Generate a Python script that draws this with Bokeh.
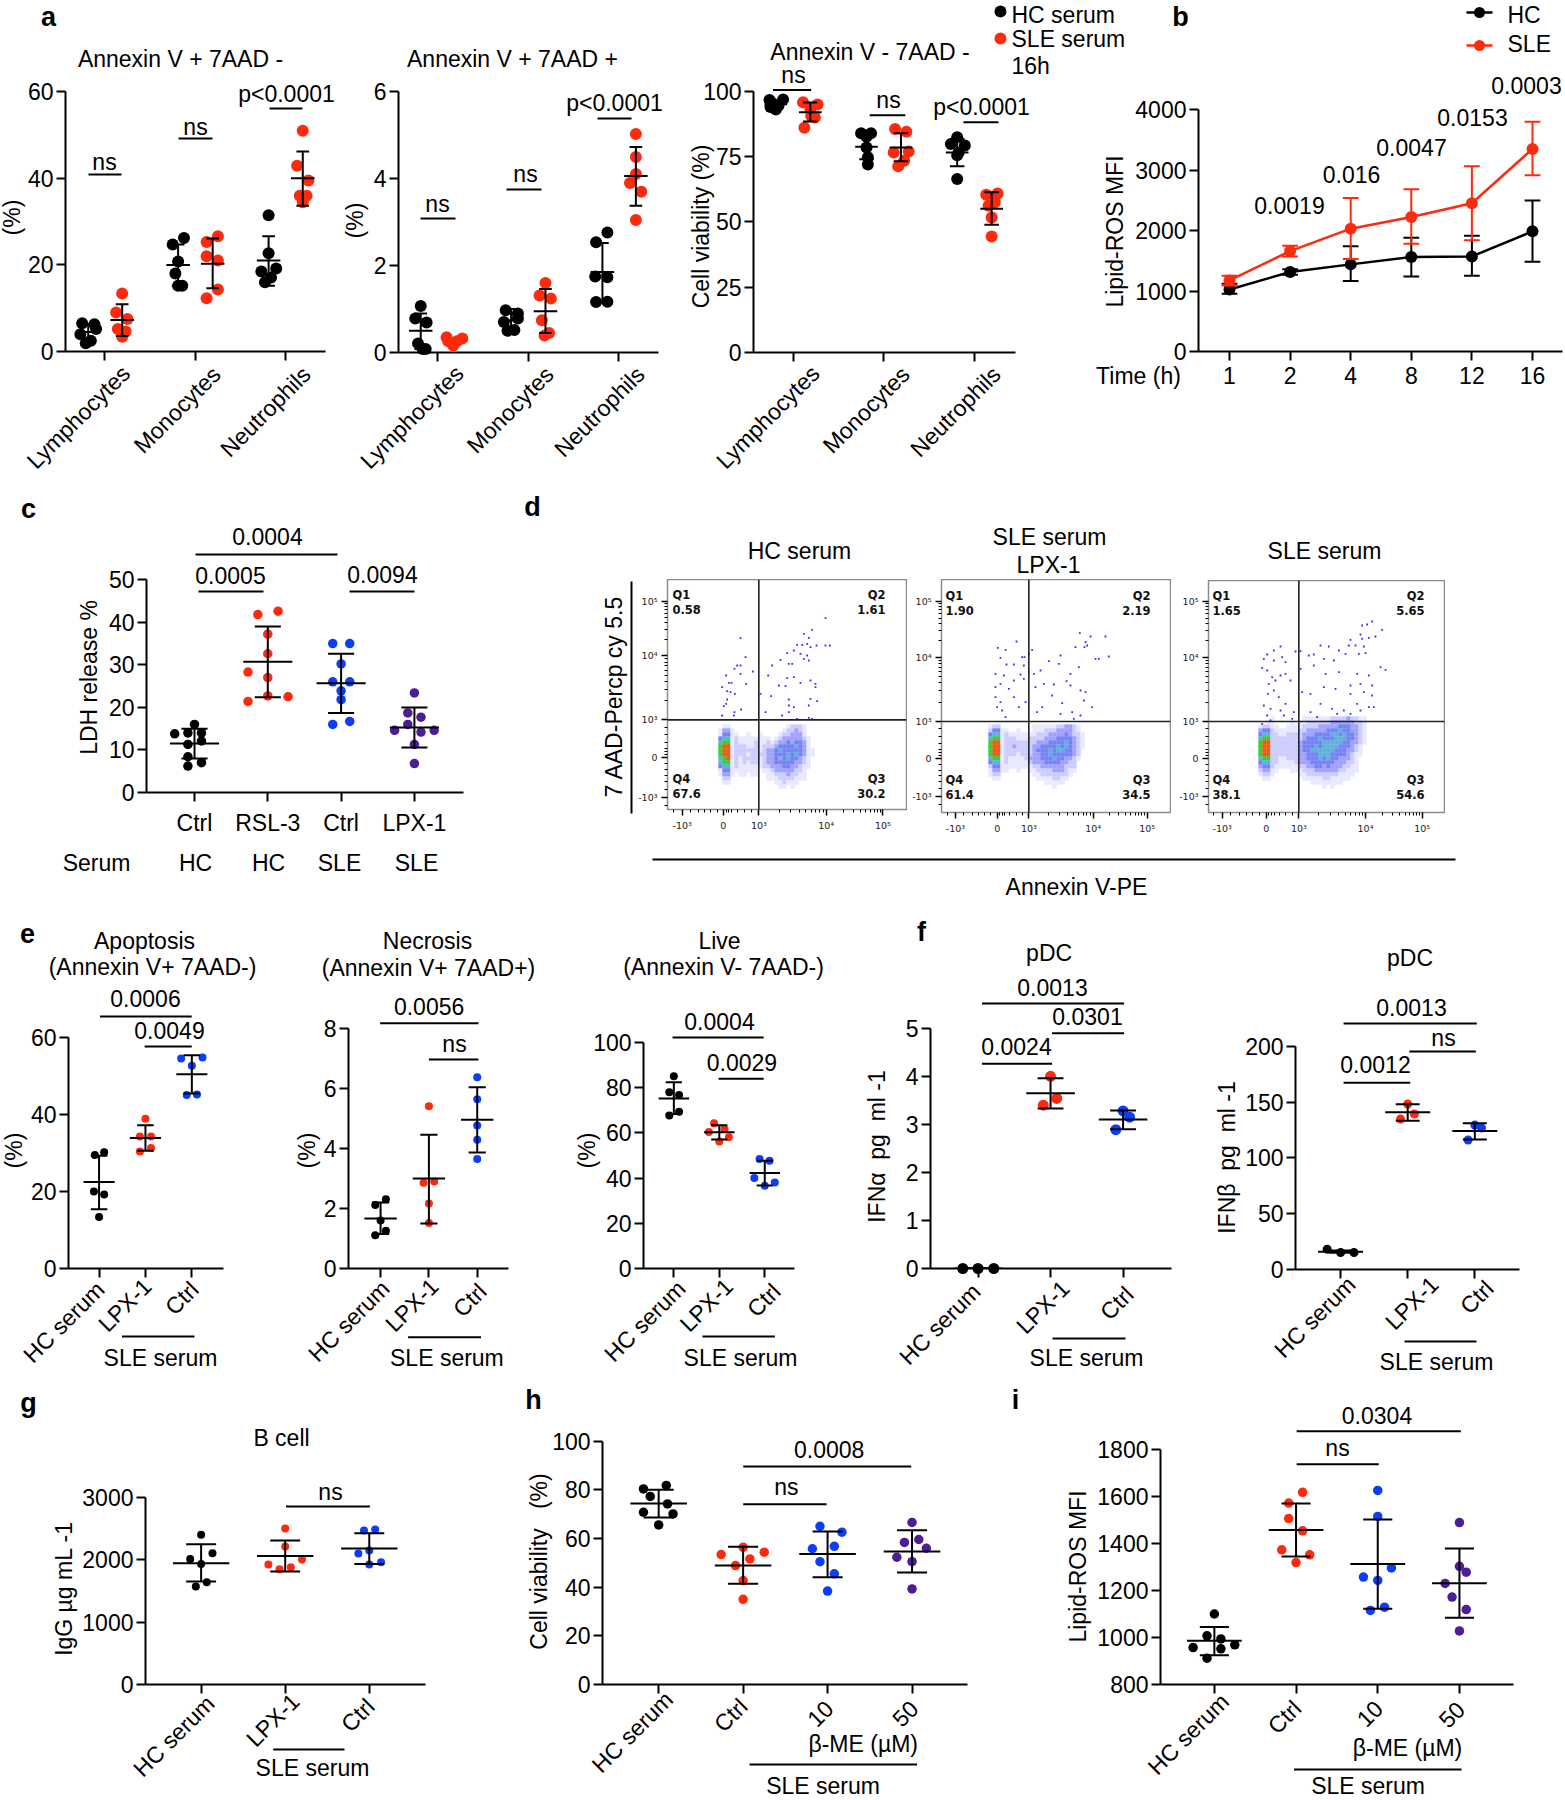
import math
from bokeh.plotting import figure
from bokeh.models import Label, Range1d, FixedTicker, Span
from bokeh.embed import file_html
from bokeh.resources import INLINE

FONT = "Liberation Sans"
BLACK, RED, BLUE, PURPLE = "#000000", "#fe2a0e", "#0b3dfb", "#4c1d95"

# ---------- panel a ----------
a_labels = ["Lymphocytes", "Monocytes", "Neutrophils"]
a1_x = [[-.25,-.115,-.096,-.27,-.154,-.21],[.192,.125,.25,.144,.23,.192],
        [.875,.75,.81,.78,.81,.856],[1.25,1.125,1.125,1.25,1.25,1.125],
        [1.81,1.81,1.73,1.894,1.837,1.77],[2.1875,2.125,2.25,2.154,2.23,2.1875]]
a1_y = [[6.5,6.3,5.2,4.0,2.5,1.9],[13.4,9.0,7.5,5.2,4.6,3.4],[26.2,24.7,20.8,18.0,15.2,15.2],
        [26.6,25.3,22,21,14.3,12.3],[31.5,22.7,18.5,19.2,17.1,16],[51,42.9,39.5,36,36,34.5]]
a1_c = [-.183,.192,.81,1.192,1.81,2.1875]
a1_m = [4.5,7.25,20,20.3,21,40]
a1_hi = [6.3,10.9,24.7,26.1,26.6,46.2]
a1_lo = [2.7,3.6,15.2,14.6,15.2,33.7]

a2_x = [[-.19,-.25,-.125,-.22,-.17,-.135],[.096,.27,.163,.21,.115,.17],
        [.75,.885,.885,.73,.77,.846],[1.19,1.125,1.25,1.15,1.23,1.18],
        [1.875,1.75,1.74,1.875,1.75,1.875],[2.19,2.19,2.19,2.125,2.25,2.19]]
a2_y = [[1.07,.78,.69,.21,.08,.08],[.35,.32,.2,.26,.26,.16],[.97,.9,.78,.7,.5,.52],
        [1.6,1.31,1.24,.74,.45,.39],[2.76,2.54,1.75,1.73,1.16,1.17],[5.03,4.5,4.11,3.9,3.7,3.05]]
a2_c = [-.19,.18,.81,1.19,1.82,2.19]
a2_m = [.5,.27,.74,.95,1.85,4.06]
a2_hi = [.9,.33,1.0,1.46,2.52,4.73]
a2_lo = [.08,.2,.49,.45,1.16,3.38]

a3_x = [[-.26,-.11,-.22,-.16,-.19,-.25],[.11,.27,.19,.24,.2,.125],
        [.75,.86,.81,.81,.825,.825],[1.125,1.25,1.11,1.275,1.225,1.16],
        [1.81,1.74,1.894,1.825,1.81,1.81],[2.13,2.256,2.225,2.156,2.19,2.19]]
a3_y = [[96.7,96.9,95.2,94.6,93,94],[95.8,94.9,93.2,90,90.5,86],[83.9,83.9,82.6,78.5,74.7,72],
        [85.6,84.5,76.6,76.9,73.4,71.3],[82.4,79.8,79.2,76.5,75.5,66.4],[60.4,60.9,57.5,56.2,51.7,44.4]]
a3_c = [-.19,.19,.81,1.19,1.81,2.19]
a3_m = [95,92,78.8,78.5,76.6,55]
a3_hi = [96.5,95.7,85,83.9,81.7,61.3]
a3_lo = [93.5,88.4,74,73.2,71.3,48.9]
ab_col = [BLACK,RED,BLACK,RED,BLACK,RED]

# ---------- panel b ----------
b_times = ["1","2","4","8","12","16"]
b_hc = [1026,1313,1440,1561,1572,1986]
b_hc_hi = [1120,1360,1738,1881,1914,2494]
b_hc_lo = [955,1270,1164,1241,1252,1484]
b_sle = [1175,1660,2030,2223,2450,3349]
b_sle_hi = [1252,1749,2538,2681,3062,3796]
b_sle_lo = [1092,1572,1528,1782,1837,2913]

# ---------- panel c ----------
c_labels = ["Ctrl","RSL-3","Ctrl","LPX-1"]
c_x = [[0,-.27,-.09,.095,.095,-.09,-.09,.095,-.09],[1.14,.864,1,1,.73,1,1,1.277,.73],
       [1.886,2.118,2,1.886,2.118,2,2,2.118,1.886],[3,2.91,3.09,2.91,2.73,3.09,3.27,3,3]]
c_y = [[16,13.8,14,14,12.1,11.3,8.4,7,6.2],[42.6,41.8,37.2,32.6,28.3,27,22.7,22.5,21.4],
       [35,35,30.2,26,26,23.9,21.8,16.7,16],[23.4,18.7,17.7,16,14.6,14.2,14.6,11.3,6.8]]
c_m = [11.5,30.7,25.7,15.3]
c_hi = [15,39,32.6,20]
c_lo = [8,22.4,18.7,10.6]

# ---------- panel e ----------
efg_labels = ["HC serum","LPX-1","Ctrl"]
e1_x = [[.11,-.09,-.11,.11,0],[1,.88,1.12,1.12,.88],[1.77,2.23,2,1.89,2.11]]
e1_y = [[30.2,29.5,20,19.2,13.4],[38.9,34.3,34.3,31.3,30.4],[54.6,54.8,52.7,45.1,45.2]]
e1_m, e1_hi, e1_lo = [22.5,33.9,50.5],[29.3,37.2,55.4],[15.4,30.6,45.5]
e2_x = [[.11,-.11,0,.11,-.11],[1,.89,1.11,1,1],[2,2,2,2,2]]
e2_y = [[2.31,2.12,1.6,1.26,1.11],[5.41,2.86,2.9,2.17,1.52],[6.38,5.64,4.77,4.29,3.65]]
e2_m, e2_hi, e2_lo = [1.67,3.0,4.96],[2.2,4.46,6.04],[1.15,1.5,3.87]
e3_x = [[0,-.1,.115,.115,-.1],[.885,1.115,.77,1.21,1],[1.885,2.105,1.77,2.22,2]]
e3_y = [[85,77.9,76.7,69.3,67.6],[64.2,61.7,60.3,58,56.2],[48.4,47.6,40,38,36.6]]
e3_m, e3_hi, e3_lo = [75.2,60.2,42.2],[82.3,63.3,47.6],[68.3,57,36.7]

# ---------- panel f ----------
f1_x = [[-.21,0,.217],[1,1.085,.9],[2,2.09,1.9]]
f1_y = [[0,0,0],[4.0,3.54,3.4],[3.28,3.15,2.89]]
f1_m, f1_hi, f1_lo = [0,3.65,3.1],[0,3.96,3.29],[0,3.33,2.9]
f2_x = [[-.2,0,.2],[1,1.1,.893],[2,2.1,1.9]]
f2_y = [[18.2,15.2,15.2],[148.3,139.3,134.8],[129.4,126.8,116]]
f2_m, f2_hi, f2_lo = [16,140.8,124.2],[17,148,131],[15,133.3,116.6]

# ---------- panel g ----------
g_x = [[0,.135,-.13,0,.067,-.063],[1,1,1.2,.8,1.067,.933],[1.937,2.07,2,1.87,2.14,2]]
g_y = [[2397,2103,2012,1932,1639,1569],[2498,2210,2002,1922,1879,1847],[2466,2482,2146,2098,1959,1922]]
g_m, g_hi, g_lo = [1943,2060,2178],[2247,2306,2424],[1650,1810,1932]

# ---------- panels h, i ----------
hi_labels = ["HC serum","Ctrl","10","50"]
h_x = [[.09,-.18,-.1,.105,-.18,.17,0],[1,.74,1.25,1.08,.91,1,1],
       [1.91,2.17,1.82,2.08,1.91,2.08,2],[3,3.08,2.91,3.17,2.82,3,3]]
h_y = [[81.8,80.4,77.3,74.2,70.8,70.1,65.6],[56.4,53.4,54.4,51.6,48.9,42.7,35],
       [65,62.6,55.8,56.8,50.5,45.5,38.4],[66.6,59.6,58.4,56,52.3,50.5,39.3]]
h_m, h_hi, h_lo = [74.4,48.9,53.6,54.7],[80,56.6,62.9,63.4],[68.6,41.4,44.1,46]
i_x = [[0,-.09,.08,.25,-.26,.08,-.09],[1.08,.91,.91,1.08,.825,1.167,1],
       [2,2,2.167,1.825,2,2.083,1.91],[3,3,3.083,2.825,2.91,3.083,3]]
i_y = [[1100,1007,994,969,957,952,912],[1618,1572,1506,1454,1373,1352,1319],
       [1626,1515,1296,1257,1243,1129,1115],[1489,1303,1278,1230,1172,1119,1028]]
i_m, i_hi, i_lo = [986,1457,1313,1231],[1045,1570,1502,1379],[925,1345,1122,1084]

# ---------- panel d: flow cytometry, values in digitised channel units ----------
d_tick_labels = ["-10³","0","10³","10⁴","10⁵"]
d1_xticks, d1_yticks = [305,428,535,737,907],[860,740,628,436,272]
d2_xticks, d2_yticks = [-75,50,145,338,500],[858,745,633,440,272]
d3_xticks, d3_yticks = [725,857,955,1155,1325],[858,745,633,440,272]
d1_pts = [(735,323),(695,358),(670,370),(685,382),(650,403),(665,403),(680,400),(690,410),(708,405),(735,405),(748,405),
 (620,428),(640,420),(660,430),(680,435),(670,445),(685,450),(600,448),(625,460),(635,460),(575,465),(480,383),(495,440),
 (470,465),(480,465),(462,475),(480,490),(437,495),(517,483),(563,495),(620,503),(640,500),(445,517),(453,517),(497,520),
 (425,530),(440,542),(450,545),(463,550),(540,550),(595,525),(615,527),(660,517),(690,510),(705,520),(705,530),(572,557),
 (625,567),(690,565),(710,572),(440,567),(437,580),(430,587),(425,615),(625,585),(640,590),(685,585),(462,605),(482,597),
 (555,605),(605,615),(625,605),(650,625),(695,625),(685,622),(460,615)]
d2_pts = [(298,368),(330,378),(375,378),(385,438),(345,445),(355,445),(315,395),(320,405),(312,410),(285,410),(240,435),
 (205,452),(145,430),(155,418),(108,393),(52,412),(75,418),(60,442),(125,440),(132,440),(78,462),(100,462),(130,465),
 (295,470),(235,460),(120,492),(45,490),(70,495),(60,520),(45,530),(100,510),(130,505),(270,490),(258,512),(270,525),
 (160,490),(180,480),(220,522),(190,520),(165,530),(300,540),(315,545),(85,535),(45,560),(100,560),(135,575),(60,575),
 (215,555),(245,578),(310,570),(335,590),(115,590),(50,590),(65,600),(170,605),(185,590),(240,610),(275,605),(300,615),
 (75,620),(280,625)]
d3_pts = [(1175,333),(1145,345),(1160,342),(1205,358),(1140,372),(1145,385),(1165,382),(1185,378),(1110,388),(1105,405),
 (1125,405),(1150,408),(1135,430),(1155,428),(1020,405),(1045,408),(1075,420),(1095,430),(985,435),(1000,432),(1030,445),
 (960,422),(945,423),(900,408),(880,420),(860,432),(850,445),(880,450),(905,440),(915,455),(845,472),(860,480),(960,475),
 (1000,465),(1060,450),(1200,470),(1215,478),(1035,490),(1075,485),(1130,490),(1165,495),(875,500),(900,495),(885,510),
 (915,490),(865,520),(930,510),(1030,530),(1065,535),(1110,525),(1140,520),(1175,525),(880,540),(862,550),(895,560),
 (965,545),(990,550),(1110,550),(1150,545),(1175,555),(915,580),(850,585),(870,595),(900,600),(940,605),(1020,580),
 (1055,595),(1090,600),(1130,580),(1140,600),(1165,590),(1180,590),(990,605),(1010,620),(1070,610),(1110,610),(860,615),
 (910,615),(845,640),(870,630),(935,625)]
# density read by eye, one digit per 12x12 channel cell, 0 = empty
d1_density = ["00110000000000000012221000","01331000000000000122321000","01441100100100001223331000",
 "04551211111111012333332100","05661211112112123343443100","06771222112122234444543100","06771222222123345444443110",
 "06771222122223344454543110","05671212222123343454432100","05661212122123344444332100","04551211111122333443321100",
 "01441111111011233333221000","01331011011001122232211000","00220000000001112222111000","00110000000000011211100000",
 "00000000000000001101000000"]
d2_density = ["01220000000011111122332100","02441100100011122233332100","04551211111112223333432210",
 "05661222111222233344443210","06771222222223334444543210","06771223222233444454543210","06771222222234445455443200",
 "06771222122233445444443200","05661211112333444544332100","04551211111233344443322000","02441111111122333333222000",
 "01331100100112222333211000","01220000000011222222210000","00110000000001111221100000","00000000000000011111000000",
 "00000000000000000100000000"]
d3_density = ["000001000000011111112222322110","000011000010112222223333332210","001221100111122223333344433210",
 "003442111111223333344454433210","004552211222233344445545443210","005662222222234445444555443210",
 "006772222222344444555554433210","006772222222344454555544432100","006772222222344555555444332100",
 "006772222222334445554444321100","005662211222334445454433321000","004552211112333444444333221000",
 "003442111111223344343332211000","002331100011122233333322111000","001221000000112222222211110000",
 "000110000000011111221111100000","000000000000000111111110000000","000000000000000000101000000000"]
DENS_COL = {"1":"#e8e8ff","2":"#ccccff","3":"#a0a0ff","4":"#7482f6","5":"#5cb2dc","6":"#2fd02f","7":"#ee5a10"}

figs = []
TXT = 23

def base_fig(bx, by, w, h, xr, yr, ml, mr, mt, mb):
    p = figure(width=int(round(w)), height=int(round(h)), x_range=xr, y_range=yr, output_backend="svg", toolbar_location=None,
               min_border_left=int(ml), min_border_right=int(mr), min_border_top=int(mt), min_border_bottom=int(mb),
               background_fill_color=None, border_fill_color=None, outline_line_color=None)
    p.grid.visible = False
    p.styles = {"position": "absolute", "left": f"{int(bx)}px", "top": f"{int(by)}px"}
    figs.append(p)
    return p

# overlay for text and rules that sit outside the plot frames
ov = base_fig(0, 0, 1565, 1800, Range1d(0, 1565), Range1d(1800, 0), 0, 0, 0, 0)
ov.xaxis.visible = False
ov.yaxis.visible = False
def ovtext(x, y, s, size=TXT, bold=False, vertical=False, align="center", angle=None):
    a = angle if angle is not None else (math.pi / 2 if vertical else 0)
    ov.add_layout(Label(x=x, y=y - 1, text=s, text_font=FONT, text_font_size=f"{size}px", text_align=align,
                        text_baseline="middle", text_color="black", angle=a, angle_units="rad",
                        text_font_style="bold" if bold else "normal"))
for x, y, s in ((48,17,"a"),(1180,17,"b"),(28,509,"c"),(532,507,"d"),(27,934,"e"),(921,932,"f"),(28,1403,"g"),(533,1400,"h"),(1015,1400,"i")):
    ovtext(x, y, s, size=27, bold=True)
ovtext(799, 551, "HC serum"); ovtext(1049, 537, "SLE serum"); ovtext(1048, 565, "LPX-1"); ovtext(1324, 551, "SLE serum")
ovtext(613, 697, "7 AAD-Percp cy 5.5", vertical=True); ovtext(1076, 887, "Annexin V-PE")
ov.segment([631, 652], [581, 859], [631, 1455], [813, 859], line_color="black", line_width=2)

def sle(x0, x1, ly, tx, ty):
    ov.segment([x0], [ly], [x1], [ly], line_color="black", line_width=2)
    ovtext(tx, ty, "SLE serum")

class Panel:
    def __init__(self, L, R, T, B, ytop_px, ybase, ymax, yticks, xt0, xsp, xlabels, ends=None, right=40, standoff=3, shift=(-5, -2)):
        self.L, self.R, self.T = L, R, T
        self.xt0, self.xsp, self.B, self.ytop_px, self.ybase, self.ymax = xt0, xsp, B, ytop_px, ybase, ymax
        left = min(90, int(L))
        bottom = min(120, int(1800 - B))
        right = min(right, int(1565 - R))
        xr = Range1d(self.X(L), self.X(R))
        yr = Range1d(self.Y(B), self.Y(T))
        p = base_fig(L - left, T, left + R - L + right, B - T + bottom, xr, yr, left, right, 0, bottom)
        self.p = p
        xa, ya = p.xaxis[0], p.yaxis[0]
        xa.ticker = FixedTicker(ticks=list(range(len(xlabels))))
        if ends is None:
            xa.major_label_overrides = {i: s for i, s in enumerate(xlabels)}
            xa.major_label_orientation = "horizontal"
            xa.major_label_standoff = standoff
        else:
            # the original's slanted labels were placed by hand, each one ends where it was read
            xa.major_label_overrides = {i: " " for i in range(len(xlabels))}
            for (ex, ey), s in zip(ends, xlabels):
                ovtext(ex + shift[0], ey + shift[1], s, align="right", angle=math.pi / 4)
        ya.ticker = FixedTicker(ticks=yticks)
        ya.bounds = (ybase, ymax)
        ya.major_label_standoff = 3
        for a in (xa, ya):
            a.axis_line_width = 2
            a.axis_line_color = "black"
            a.major_tick_line_width = 2
            a.major_tick_in = 0
            a.major_tick_out = 9
            a.minor_tick_line_color = None
            a.major_label_text_font = FONT
            a.major_label_text_font_size = f"{TXT}px"
            a.major_label_text_color = "black"

    def X(self, px):
        return (px - self.xt0) / self.xsp

    def Y(self, py):
        return self.ybase + (self.B - py) / (self.B - self.ytop_px) * (self.ymax - self.ybase)

    def text(self, px, py, s, size=TXT, vertical=False, align="center", bold=False):
        ovtext(px, py, s, size=size, vertical=vertical, align=align, bold=bold)

    def bracket(self, x0, x1, py):
        self.p.segment([self.X(x0)], [self.Y(py)], [self.X(x1)], [self.Y(py)], line_color="black", line_width=2)

    def low_layer(self, xs, ys, c, size):
        # marks sitting on the baseline would be cut by the frame: draw them on a twin with the same scales
        pad = 10
        L, R, T, B = self.L, self.R, self.T, self.B
        q = base_fig(L, T, R - L, B + pad - T, Range1d(self.X(L), self.X(R)), Range1d(self.Y(B + pad), self.Y(T)), 0, 0, 0, 0)
        q.xaxis.visible = False
        q.yaxis.visible = False
        q.scatter(xs, ys, size=size, fill_color=c, line_color=c, line_width=0)

    def groups(self, xs, ys, cols, size, ms=None, his=None, los=None, cen=None, mw=.335, cw=.178, low=()):
        for i, (x, y, c) in enumerate(zip(xs, ys, cols)):
            if i in low:
                self.low_layer(x, y, c, size)
            else:
                self.p.scatter(x, y, size=size, fill_color=c, line_color=c, line_width=0)
        if cen is None:
            cen = list(range(len(ms)))
        for c, m, h, l in zip(cen, ms, his, los):
            self.p.segment([c-mw, c-cw, c-cw, c], [m, h, l, l], [c+mw, c+cw, c+cw, c], [m, h, l, h],
                           line_color="black", line_width=2)

# --- a
p = Panel(65, 325, 30, 351, 91.3, 0, 60, [0,20,40,60], 104.3, 90.5, a_labels, ends=[(126.5,371),(217,372),(307,372)], shift=(-1,-1))
p.groups(a1_x, a1_y, ab_col, 12, a1_m, a1_hi, a1_lo, a1_c, .13, .07)
p.text(180, 59, "Annexin V + 7AAD -"); p.text(11, 218, "(%)", vertical=True)
p.bracket(88, 121, 174); p.text(104, 162, "ns")
p.bracket(178, 212, 138); p.text(195, 127, "ns")
p.bracket(269, 302, 108); p.text(286, 94, "p<0.0001")

p = Panel(398, 658, 30, 352, 91.3, 0, 6, [0,2,4,6], 437.4, 90.4, a_labels, ends=[(460,371),(550,372),(641,372)], shift=(-1,-1))
p.groups(a2_x, a2_y, ab_col, 12, a2_m, a2_hi, a2_lo, a2_c, .13, .07, low=(0,1))
p.text(512, 59, "Annexin V + 7AAD +"); p.text(354, 221, "(%)", vertical=True)
p.bracket(420, 455, 218); p.text(437, 204, "ns")
p.bracket(506, 541, 189); p.text(525, 174, "ns")
p.bracket(597, 631, 118); p.text(614, 103, "p<0.0001")

p = Panel(753.5, 1015, 0, 351.7, 90.7, 0, 100, [0,25,50,75,100], 793, 90.5, a_labels, ends=[(816,371),(906,372),(997,372)], shift=(-1,-1))
p.groups(a3_x, a3_y, ab_col, 12, a3_m, a3_hi, a3_lo, a3_c, .125, .08)
p.text(869.5, 52, "Annexin V - 7AAD -"); p.text(700, 227, "Cell viability (%)", vertical=True)
p.bracket(773, 811, 89.3); p.text(793, 75, "ns")
p.bracket(869.5, 905, 114.7); p.text(888, 100, "ns")
p.bracket(963, 998, 121.7); p.text(981, 107, "p<0.0001")
p.p.scatter([p.X(1000), p.X(1000)], [p.Y(11), p.Y(38)], size=12, color=[BLACK, RED], line_width=0)
p.text(1011, 15, "HC serum", align="left"); p.text(1011, 39, "SLE serum", align="left"); p.text(1011, 66, "16h", align="left")

# --- b
p = Panel(1198, 1562, 0, 351, 109, 0, 4000, [0,1000,2000,3000,4000], 1229, 60.6, b_times, standoff=6)
idx = list(range(len(b_times)))
for m, h, l, c in ((b_hc, b_hc_hi, b_hc_lo, BLACK), (b_sle, b_sle_hi, b_sle_lo, RED)):
    p.p.segment(idx, l, idx, h, line_color=c, line_width=2)
    p.p.segment([i-.13 for i in idx], h, [i+.13 for i in idx], h, line_color=c, line_width=2)
    p.p.segment([i-.13 for i in idx], l, [i+.13 for i in idx], l, line_color=c, line_width=2)
    p.p.line(idx, m, line_color=c, line_width=2.5)
    p.p.scatter(idx, m, size=12, color=c, line_width=0)
p.text(1114, 232, "Lipid-ROS MFI", vertical=True); p.text(1138, 376, "Time (h)")
for x, y, s in ((1289,206,"0.0019"),(1351,175,"0.016"),(1411,148,"0.0047"),(1472,118,"0.0153"),(1526,86,"0.0003")):
    p.text(x, y, s)
for y, c, s, ty in ((12, BLACK, "HC", 15), (45, RED, "SLE", 44)):
    p.p.segment([p.X(1466)], [p.Y(y)], [p.X(1492)], [p.Y(y)], line_color=c, line_width=2.5)
    p.p.scatter([p.X(1479)], [p.Y(y)], size=11, color=c, line_width=0)
    p.text(1507, ty, s, align="left")

# --- c
p = Panel(146, 463, 495, 792.3, 579.3, 0, 50, [0,10,20,30,40,50], 194, 73.3, c_labels, standoff=8)
p.groups(c_x, c_y, [BLACK, RED, BLUE, PURPLE], 9.5, c_m, c_hi, c_lo)
p.text(88, 678, "LDH release %", vertical=True)
p.bracket(195, 337, 554); p.text(267, 537, "0.0004")
p.bracket(198, 263, 591); p.text(230, 576, "0.0005")
p.bracket(349, 414, 591); p.text(382, 575, "0.0094")
for x, s in ((96,"Serum"),(195,"HC"),(268,"HC"),(339,"SLE"),(416,"SLE")):
    p.text(x, 863, s)

# --- d
def flow(L, R, T, Bt, ox, xticks, yticks, pts, dens, col0, row0, q):
    xr = Range1d((L - ox) * 3, (R - ox) * 3)
    yr = Range1d((Bt - 510) * 3, (T - 510) * 3)
    lf, bt = 50, 40
    p = base_fig(L - lf, T, lf + R - L + 1, Bt - T + bt, xr, yr, lf, 1, 0, bt)
    p.outline_line_color = "#8c8c8c"
    p.outline_line_width = 1.5
    cx, cy, cc = [], [], []
    for r, row in enumerate(dens):
        for c, d in enumerate(row):
            if d != "0":
                cx.append(col0 + 12 * c + 6); cy.append(row0 + 12 * r + 6); cc.append(DENS_COL[d])
    p.rect(cx, cy, 12, 12, fill_color=cc, line_color=cc, line_width=.3)
    p.scatter([a for a, b in pts], [b for a, b in pts], marker="square", size=1.8, color="#3a2cff", line_width=0)
    p.add_layout(Span(location=xticks[2], dimension="height", line_color="#222222", line_width=1.6))
    p.add_layout(Span(location=yticks[2], dimension="width", line_color="#222222", line_width=1.6))
    for a, ticks in ((p.xaxis[0], xticks), (p.yaxis[0], yticks)):
        z, t3, t4, t5 = ticks[1], ticks[2], ticks[3], ticks[4]
        minor = [z + (ticks[0] - z) * f for f in (.15,.3,.45,.6,.8,1.2)] + [z + (t3 - z) * f for f in (.08,.16,.24,.4,.6,.8)]
        for k in range(2, 10):
            minor += [t3 + (t4 - t3) * math.log10(k), t4 + (t5 - t4) * math.log10(k)]
        a.ticker = FixedTicker(ticks=ticks, minor_ticks=minor)
        a.major_label_overrides = {v: s for v, s in zip(ticks, d_tick_labels)}
        a.axis_line_color = None
        a.major_tick_in = 0; a.major_tick_out = 6; a.major_tick_line_width = 1.5
        a.minor_tick_in = 0; a.minor_tick_out = 3; a.minor_tick_line_width = 1
        a.major_label_text_font = "DejaVu Sans"; a.major_label_text_font_size = "9.5px"
        a.major_label_standoff = 4
        a.major_label_text_color = "#222222"
    for (qx, qy, s, al) in q:
        p.add_layout(Label(x=(qx - ox) * 3, y=(qy - 510) * 3, text=s, text_font="DejaVu Sans", text_font_size="11.5px",
                           text_font_style="bold", text_align=al, text_baseline="middle", text_color="#111111"))

def quads(lx, rx, a, b, c, d, top=594, low=778):
    return [(lx, top, "Q1", "left"), (lx, top + 15, a, "left"), (rx, top, "Q2", "right"), (rx, top + 15, b, "right"),
            (lx, low, "Q4", "left"), (lx, low + 15, c, "left"), (rx, low, "Q3", "right"), (rx, low + 15, d, "right")]

flow(667, 906, 579, 809, 580, d1_xticks, d1_yticks, d1_pts, d1_density, (714-580)*3, (724-510)*3,
     quads(672, 885, "0.58", "1.61", "67.6", "30.2"))
flow(941, 1170, 579, 812, 980, d2_xticks, d2_yticks, d2_pts, d2_density, (984-980)*3, (724-510)*3,
     quads(945, 1150, "1.90", "2.19", "61.4", "34.5", 595, 779))
flow(1208, 1444, 580, 812, 980, d3_xticks, d3_yticks, d3_pts, d3_density, (1250-980)*3, (716-510)*3,
     quads(1212, 1424, "1.65", "5.65", "38.1", "54.6", 595, 779))

# --- e
COL3 = [BLACK, RED, BLUE]
p = Panel(68, 222.7, 915, 1267.7, 1037, 0, 60, [0,20,40,60], 98.5, 46.3, efg_labels, ends=[(105,1288),(152,1285),(199,1288)])
p.groups(e1_x, e1_y, COL3, 8, e1_m, e1_hi, e1_lo)
p.text(144, 941, "Apoptosis"); p.text(152, 967, "(Annexin V+ 7AAD-)"); p.text(13, 1151, "(%)", vertical=True)
p.bracket(99.5, 191, 1016); p.text(145, 999, "0.0006")
p.bracket(144, 191, 1046); p.text(169, 1031, "0.0049")
sle(121.5, 194, 1336, 160, 1358)

p = Panel(348.4, 508, 915, 1267.7, 1028, 0, 8, [0,2,4,6,8], 380.4, 48.2, efg_labels, ends=[(390,1287),(439,1285),(487,1290)])
p.groups(e2_x, e2_y, COL3, 8, e2_m, e2_hi, e2_lo)
p.text(427, 941, "Necrosis"); p.text(428, 968, "(Annexin V+ 7AAD+)"); p.text(306.5, 1151, "(%)", vertical=True)
p.bracket(380, 478, 1022.7); p.text(428.6, 1007, "0.0056")
p.bracket(428.6, 478, 1059); p.text(454, 1044, "ns")
sle(407.6, 480.5, 1336.7, 446.4, 1358)

p = Panel(643, 793.8, 915, 1267.7, 1041.7, 0, 100, [0,20,40,60,80,100], 673.3, 45.4, efg_labels, ends=[(686,1287),(733.5,1285),(781,1290)])
p.groups(e3_x, e3_y, COL3, 8, e3_m, e3_hi, e3_lo)
p.text(719, 941, "Live"); p.text(723, 967, "(Annexin V- 7AAD-)"); p.text(586, 1151, "(%)", vertical=True)
p.bracket(672, 763, 1037); p.text(719, 1022, "0.0004")
p.bracket(718, 763, 1078); p.text(741.4, 1063, "0.0029")
sle(702, 774.4, 1336, 740, 1358)

# --- f
p = Panel(930.5, 1171.4, 915, 1267.7, 1027.7, 0, 5, [0,1,2,3,4,5], 978, 72.5, efg_labels, ends=[(981,1290),(1070,1287),(1134,1293)])
p.groups(f1_x, f1_y, COL3, 11, f1_m, f1_hi, f1_lo, low=(0,))
p.text(1048.6, 953, "pDC"); p.text(876, 1147, "IFNα\u00a0 pg\u00a0 ml -1", vertical=True)
p.bracket(982, 1124, 1003); p.text(1052, 988, "0.0013")
p.bracket(1052, 1124, 1032.7); p.text(1087, 1017, "0.0301")
p.bracket(982, 1052, 1063); p.text(1016, 1047, "0.0024")
sle(1052, 1125, 1338, 1086, 1358)

p = Panel(1295, 1518.6, 915, 1268.7, 1045.7, 0, 200, [0,50,100,150,200], 1340, 67, efg_labels, ends=[(1356,1283),(1439,1283),(1494,1287)])
p.groups(f2_x, f2_y, COL3, 9, f2_m, f2_hi, f2_lo)
p.text(1409.5, 958, "pDC"); p.text(1226, 1158, "IFNβ\u00a0 pg\u00a0 ml -1", vertical=True)
p.bracket(1343, 1476, 1023); p.text(1411, 1008, "0.0013")
p.bracket(1408.6, 1475, 1051); p.text(1443, 1038, "ns")
p.bracket(1343, 1409.5, 1082); p.text(1375, 1065, "0.0012")
sle(1404, 1476, 1341, 1436, 1362)

# --- g
p = Panel(145.3, 425.7, 1385, 1684, 1496.7, 0, 3000, [0,1000,2000,3000], 201, 84.2, efg_labels, ends=[(215,1702),(300,1700),(375,1705)])
p.groups(g_x, g_y, COL3, 8, g_m, g_hi, g_lo)
p.text(281, 1438, "B cell"); p.text(63, 1589, "IgG µg mL -1", vertical=True)
p.bracket(286, 370, 1506); p.text(330, 1492, "ns")
sle(272.7, 344, 1749, 312, 1768)

# --- h
COL4 = [BLACK, RED, BLUE, PURPLE]
p = Panel(602.8, 968, 1385, 1684, 1440.7, 0, 100, [0,20,40,60,80,100], 659, 84.5, hi_labels, ends=[(673.5,1698),(748,1705),(833.5,1707),(918.5,1707)])
p.groups(h_x, h_y, COL4, 9.5, h_m, h_hi, h_lo)
p.text(538.8, 1562, "Cell viability\u00a0\u00a0 (%)", vertical=True)
p.bracket(743.6, 911.7, 1466); p.text(828.7, 1450, "0.0008")
p.bracket(743.6, 827, 1503.7); p.text(785.8, 1487, "ns")
p.text(862.7, 1744, "β-ME (µM)")
sle(749, 916.5, 1764, 822.6, 1786)

# --- i
p = Panel(1160, 1512.6, 1385, 1684, 1449, 800, 1800, [800,1000,1200,1400,1600,1800], 1213.8, 81.6, hi_labels, ends=[(1229.5,1700),(1301.6,1707),(1383,1707),(1465,1708)])
p.groups(i_x, i_y, COL4, 9.5, i_m, i_hi, i_lo)
p.text(1077, 1567, "Lipid-ROS MFI", vertical=True)
p.bracket(1296, 1460, 1430.7); p.text(1376.5, 1416, "0.0304")
p.bracket(1296, 1378, 1463.7); p.text(1337, 1448, "ns")
p.text(1407, 1748, "β-ME (µM)")
sle(1293.5, 1461, 1769, 1367.6, 1786)

open("out.html", "w").write(file_html(figs, INLINE))
